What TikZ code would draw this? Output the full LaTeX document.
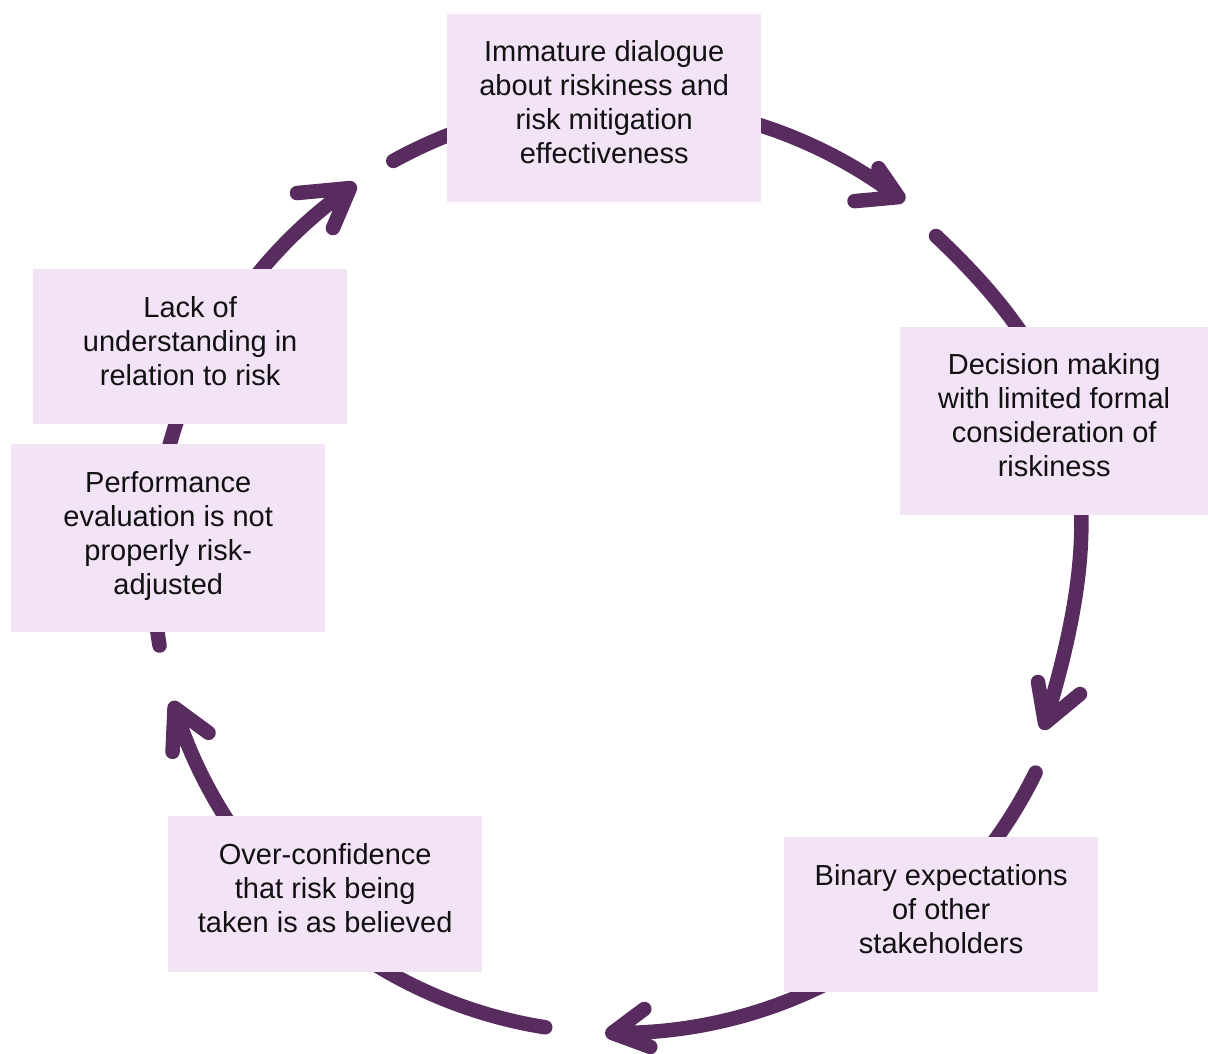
\documentclass[tikz,border=0pt]{standalone}
\usepackage{fontspec}
\setmainfont{Liberation Sans}
\definecolor{plum}{HTML}{582C5E}
\definecolor{lilac}{HTML}{F2E3F7}
\definecolor{ink}{HTML}{111111}
\begin{document}
\begin{tikzpicture}[x=1pt,y=-1pt,
  flow/.style={draw=plum, line width=14.5pt, line cap=round, line join=round},
  box/.style={rectangle, fill=lilac, inner sep=0pt, anchor=north west},
  txt/.style={align=center, text=ink, font=\fontsize{29pt}{34pt}\selectfont, inner sep=0pt}]
\fill[white] (0,0) rectangle (1208,1053);
\useasboundingbox (0,0) rectangle (1208,1053);
\coordinate (c) at (618,568);
% start points of the five arrows
\path (c) ++(241.1:465) coordinate (s1);
\coordinate (s2) at (936,236);
\path (c) ++(26.1:465) coordinate (s3);
\path (c) ++(99.0:465) coordinate (s4);
\path (c) ++(170.4:465) coordinate (s5);
\coordinate (t2) at (1045,723);
% arrows
\draw[flow] (s1) arc[start angle=241.1, end angle=307.1, radius=465] coordinate (t1)
  ++(-20,-29) -- (t1) -- ++(-44,4);
\draw[flow] (s2) .. controls (1096,386) and (1110,510) .. (t2)
  ++(-7,-41) -- (t2) -- ++(35,-29);
\draw[flow] (s3) arc[start angle=26.1, end angle=90.7, radius=465] coordinate (t3)
  ++(32,-24) -- (t3) -- ++(38,14);
\draw[flow] (s4) arc[start angle=99.0, end angle=162.5, radius=465] coordinate (t4)
  ++(34,25) -- (t4) -- ++(-2,44);
\draw[flow] (s5) arc[start angle=170.4, end angle=234.8, radius=465] coordinate (t5)
  ++(-53,5) -- (t5) -- ++(-17,40);
% boxes
\node[box, minimum width=314pt, minimum height=188pt] (b1) at (447,14) {};
\node[box, minimum width=308pt, minimum height=188pt] (b2) at (900,327) {};
\node[box, minimum width=314pt, minimum height=155pt] (b3) at (784,837) {};
\node[box, minimum width=314pt, minimum height=156pt] (b4) at (168,816) {};
\node[box, minimum width=314pt, minimum height=155pt] (b5) at (33,269) {};
\node[box, minimum width=314pt, minimum height=188pt] (b6) at (11,444) {};
% texts
\node[txt] (l1) at ([yshift=6pt]b1.center) {Immature dialogue\\about riskiness and\\risk mitigation\\effectiveness};
\node[txt] (l2) at ([yshift=6pt]b2.center) {Decision making\\with limited formal\\consideration of\\riskiness};
\node[txt] (l3) at ([yshift=6pt]b3.center) {Binary expectations\\of other\\stakeholders};
\node[txt] (l4) at ([yshift=6pt]b4.center) {Over-confidence\\that risk being\\taken is as believed};
\node[txt] (l5) at ([yshift=6pt]b5.center) {Lack of\\understanding in\\relation to risk};
\node[txt] (l6) at ([yshift=2pt]b6.center) {Performance\\evaluation is not\\properly risk-\\adjusted};
\end{tikzpicture}
\end{document}
